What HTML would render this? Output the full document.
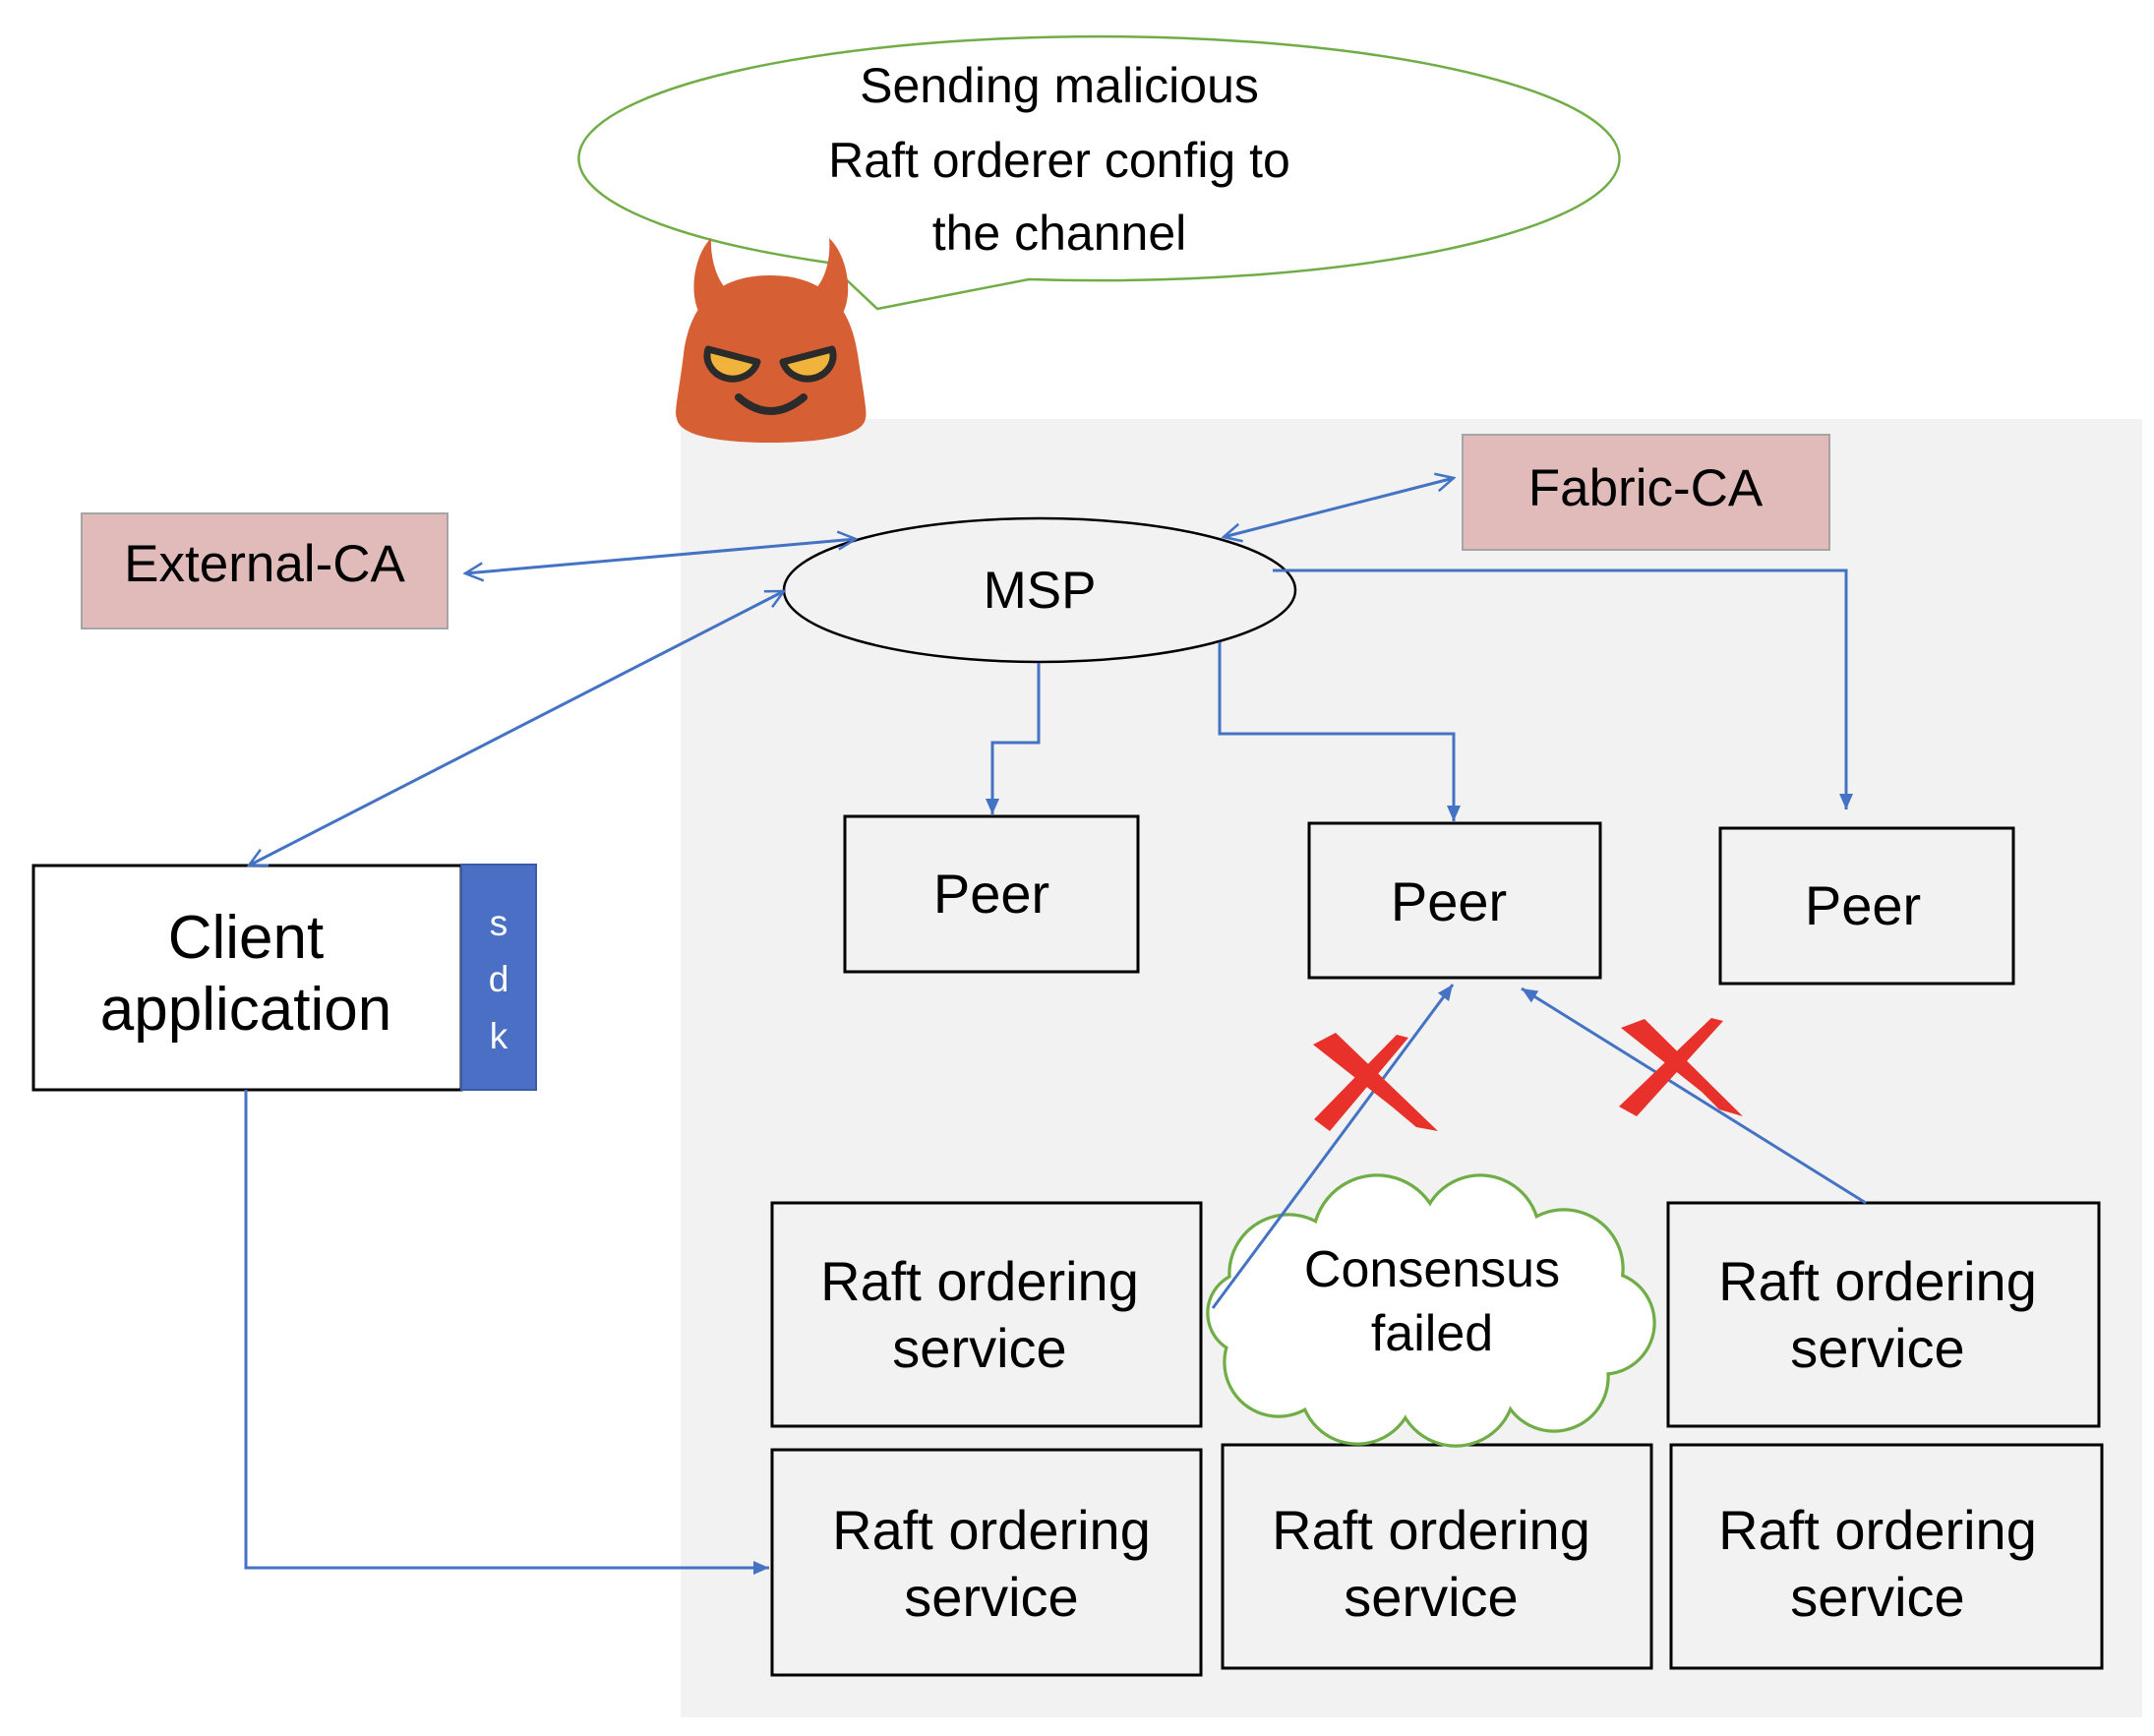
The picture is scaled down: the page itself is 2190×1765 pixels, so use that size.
<!DOCTYPE html>
<html><head><meta charset="utf-8"><style>
html,body{margin:0;padding:0;background:#fff;}
svg{display:block;}
text{font-family:"Liberation Sans",sans-serif;fill:#000;}
.n{font-family:"Liberation Sans Narrow","Liberation Sans",sans-serif;}
</style></head><body>
<svg width="2190" height="1765" viewBox="0 0 2190 1765" xmlns="http://www.w3.org/2000/svg">
<defs>
<marker id="o" markerWidth="22" markerHeight="22" refX="20" refY="11" orient="auto-start-reverse" markerUnits="userSpaceOnUse"><path d="M2,2 L20,11 L2,20" fill="none" stroke="#4472c4" stroke-width="2.5"/></marker>
<marker id="f" markerWidth="18" markerHeight="18" refX="16" refY="9" orient="auto" markerUnits="userSpaceOnUse"><path d="M0,2 L16,9 L0,16 z" fill="#4472c4"/></marker>
</defs>
<rect x="692" y="426" width="1486" height="1320" fill="#f2f2f2"/>

<path d="M842,267 A529,124 0 1 1 1046,284 L892,314 Z" fill="#fff" stroke="#70ad47" stroke-width="2.5"/>
<text class="n" x="1077" y="104" font-size="50" text-anchor="middle">Sending malicious</text>
<text class="n" x="1077" y="180" font-size="50" text-anchor="middle">Raft orderer config to</text>
<text class="n" x="1077" y="254" font-size="50" text-anchor="middle">the channel</text>

<g fill="#d75f34">
<path d="M723,242 C705,260 700,300 712,320 L745,300 C730,290 722,265 723,242 Z"/>
<path d="M843,242 C862,260 868,300 856,320 L822,300 C838,290 845,265 843,242 Z"/>
<path d="M783,280 C720,280 700,320 695,360 C690,400 685,420 688,425 C690,445 740,450 783,450 C826,450 878,445 880,425 C882,420 878,400 872,360 C866,320 846,280 783,280 Z"/>
</g>
<path d="M720,355 A22,20 0 0 0 770,368 Z" fill="#f0b43c" stroke="#2b2b2b" stroke-width="7" stroke-linejoin="round"/>
<path d="M846,355 A22,20 0 0 1 796,368 Z" fill="#f0b43c" stroke="#2b2b2b" stroke-width="7" stroke-linejoin="round"/>
<path d="M751,404 Q783,432 817,404" fill="none" stroke="#2b2b2b" stroke-width="8" stroke-linecap="round"/>

<rect x="83" y="522" width="372" height="117" fill="#e0bbba" stroke="#a5a5a5" stroke-width="2"/>
<text class="n" x="269" y="591" font-size="53" text-anchor="middle">External-CA</text>
<rect x="1487" y="442" width="373" height="117" fill="#e0bbba" stroke="#a5a5a5" stroke-width="2"/>
<text class="n" x="1673" y="514" font-size="53" text-anchor="middle">Fabric-CA</text>

<ellipse cx="1057" cy="600" rx="260" ry="73" fill="#f2f2f2" stroke="#000" stroke-width="2.5"/>
<text class="n" x="1057" y="618" font-size="53" text-anchor="middle">MSP</text>

<g fill="#f2f2f2" stroke="#000" stroke-width="3">
<rect x="859" y="830" width="298" height="158"/>
<rect x="1331" y="837" width="296" height="157"/>
<rect x="1749" y="842" width="298" height="158"/>
</g>
<text x="1008" y="928" font-size="56" text-anchor="middle">Peer</text>
<text x="1473" y="936" font-size="56" text-anchor="middle">Peer</text>
<text x="1894" y="940" font-size="56" text-anchor="middle">Peer</text>

<rect x="34" y="880" width="435" height="228" fill="#fff" stroke="#000" stroke-width="3"/>
<rect x="469" y="879" width="76" height="229" fill="#4a6fc4" stroke="#3a5aa8" stroke-width="2"/>
<text x="250" y="974" font-size="62" text-anchor="middle">Client</text>
<text x="250" y="1047" font-size="62" text-anchor="middle">application</text>
<text x="507" y="951" font-size="37" text-anchor="middle" style="fill:#fff">s</text>
<text x="507" y="1008" font-size="37" text-anchor="middle" style="fill:#fff">d</text>
<text x="507" y="1066" font-size="37" text-anchor="middle" style="fill:#fff">k</text>

<g fill="#f2f2f2" stroke="#000" stroke-width="3">
<rect x="785" y="1223" width="436" height="227"/>
<rect x="1696" y="1223" width="438" height="227"/>
<rect x="785" y="1474" width="436" height="229"/>
<rect x="1243" y="1469" width="436" height="227"/>
<rect x="1699" y="1469" width="438" height="227"/>
</g>
<g font-size="56" text-anchor="middle">
<text x="996" y="1322">Raft ordering</text><text x="996" y="1390">service</text>
<text x="1909" y="1322">Raft ordering</text><text x="1909" y="1390">service</text>
<text x="1008" y="1575">Raft ordering</text><text x="1008" y="1643">service</text>
<text x="1455" y="1575">Raft ordering</text><text x="1455" y="1643">service</text>
<text x="1909" y="1575">Raft ordering</text><text x="1909" y="1643">service</text>
</g>

<g stroke="#70ad47" stroke-width="3.5" fill="none">
<circle cx="1310" cy="1295" r="60"/><circle cx="1400" cy="1260" r="65"/><circle cx="1505" cy="1255" r="60"/>
<circle cx="1590" cy="1290" r="60"/><circle cx="1630" cy="1345" r="52"/><circle cx="1580" cy="1400" r="55"/>
<circle cx="1480" cy="1410" r="60"/><circle cx="1380" cy="1410" r="58"/><circle cx="1300" cy="1385" r="55"/>
<circle cx="1270" cy="1335" r="42"/>
</g>
<g fill="#fff">
<circle cx="1310" cy="1295" r="58.5"/><circle cx="1400" cy="1260" r="63.5"/><circle cx="1505" cy="1255" r="58.5"/>
<circle cx="1590" cy="1290" r="58.5"/><circle cx="1630" cy="1345" r="50.5"/><circle cx="1580" cy="1400" r="53.5"/>
<circle cx="1480" cy="1410" r="58.5"/><circle cx="1380" cy="1410" r="56.5"/><circle cx="1300" cy="1385" r="53.5"/>
<circle cx="1270" cy="1335" r="40.5"/><ellipse cx="1450" cy="1335" rx="170" ry="90"/>
</g>
<text x="1456" y="1308" font-size="52" text-anchor="middle">Consensus</text>
<text x="1456" y="1373" font-size="52" text-anchor="middle">failed</text>

<g stroke="#4472c4" stroke-width="3" fill="none">
<line x1="473" y1="583" x2="870" y2="548" marker-start="url(#o)" marker-end="url(#o)"/>
<line x1="253" y1="880" x2="797" y2="601" marker-start="url(#o)" marker-end="url(#o)"/>
<line x1="1244" y1="546" x2="1478" y2="486" marker-start="url(#o)" marker-end="url(#o)"/>
<polyline points="1056,674 1056,755 1009,755 1009,828" marker-end="url(#f)"/>
<polyline points="1240,653 1240,746 1478,746 1478,835" marker-end="url(#f)"/>
<polyline points="1294,580 1877,580 1877,823" marker-end="url(#f)"/>
<polyline points="250,1108 250,1594 782,1594" marker-end="url(#f)"/>
<line x1="1233" y1="1330" x2="1477" y2="1001" marker-end="url(#f)"/>
<line x1="1897" y1="1223" x2="1547" y2="1005" marker-end="url(#f)"/>
</g>

<g fill="#e8312a">
<path d="M1335,1062 L1358,1050 L1462,1150 L1440,1146 L1415,1125 Z"/>
<path d="M1420,1052 L1432,1055 L1352,1150 L1336,1138 Z"/>
<path d="M1648,1045 L1672,1036 L1772,1135 L1748,1128 L1730,1110 Z"/>
<path d="M1740,1035 L1752,1038 L1664,1135 L1646,1125 Z"/>
</g>
</svg>
</body></html>
